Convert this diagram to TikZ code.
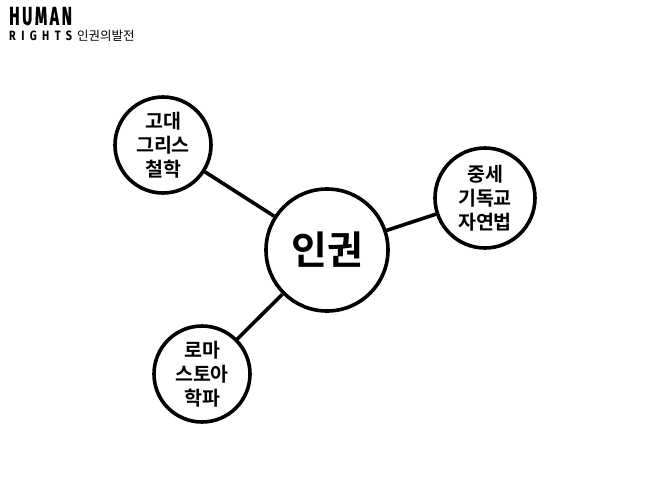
\documentclass[tikz,border=0pt]{standalone}
\usepackage{fontspec}
\newfontfamily\kr{Noto Sans CJK KR}
\newfontfamily\krb{Noto Sans CJK KR Bold}
\newfontfamily\cond[FakeStretch=0.6,LetterSpace=10,FakeBold=0.6]{Fira Sans Bold}
\newfontfamily\condsp[FakeStretch=0.8,LetterSpace=40]{Fira Sans Bold}
\begin{document}
\begin{tikzpicture}[x=1pt,y=-1pt,
  bubble/.style={circle,draw=black,line width=3.6pt,fill=white,inner sep=0pt,align=center},
  small/.style={bubble,minimum size=96pt,font=\krb\fontsize{19.5}{24}\selectfont},
  link/.style={draw=black,line width=3.6pt}]
\useasboundingbox (0,0) rectangle (650,488);
\node[bubble,minimum size=122pt,font=\krb\fontsize{39}{40}\selectfont] (c) at (327,250) {인권};
\node[small] (a) at (163,145) {고대\\그리스\\철학};
\node[small,minimum size=100pt] (b) at (485,198) {중세\\기독교\\자연법};
\node[small] (d) at (202,374) {로마\\스토아\\학파};
\draw[link] (a) -- (c);
\draw[link] (b) -- (c);
\draw[link] (d) -- (c);
\node[anchor=south west,inner sep=0pt,font=\cond\fontsize{26}{26}\selectfont] (h) at (9,25.5) {HUMAN};
\node[anchor=north west,inner sep=0pt,font=\condsp\fontsize{13.5}{14}\selectfont] (r) at (9,30.5) {RIGHTS};
\node[anchor=west,inner sep=0pt,font=\kr\fontsize{12.5}{14}\selectfont] (t) at (77,35.5) {인권의발전};
\end{tikzpicture}
\end{document}
